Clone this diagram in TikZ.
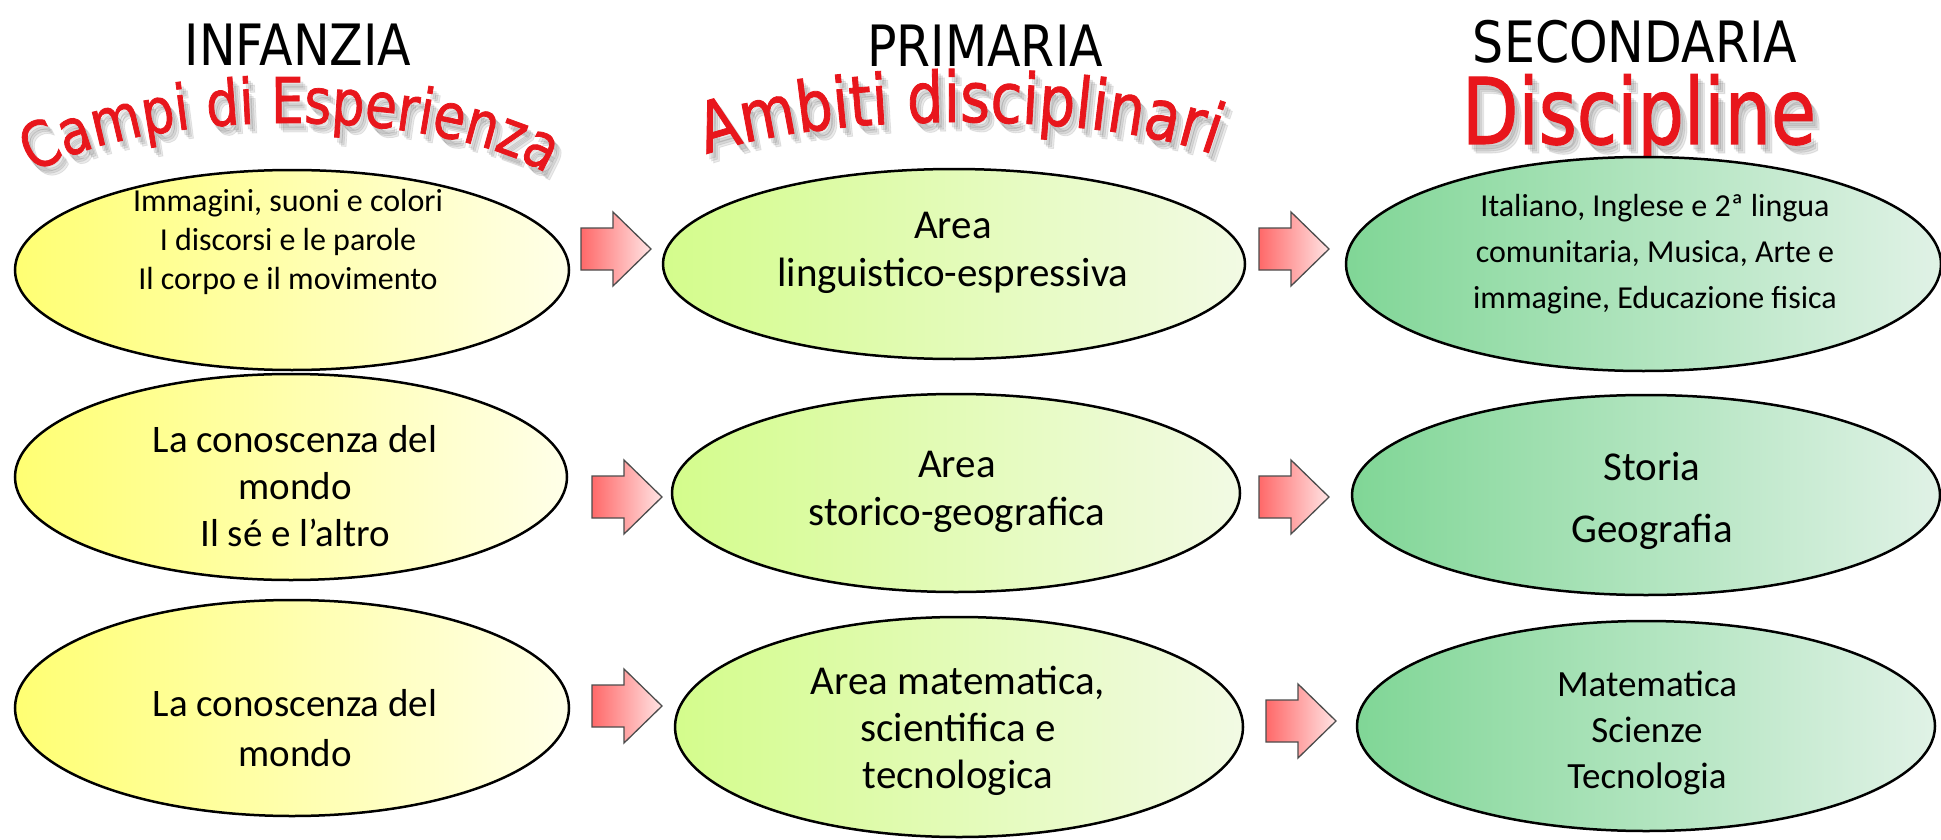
\documentclass[tikz,border=0pt]{standalone}
\usepackage{fontspec}
\setmainfont{Carlito}
\newfontfamily\headfont[FakeStretch=0.86]{DejaVu Sans}
\newfontfamily\wordfont[FakeStretch=0.82,FakeBold=1.2]{DejaVu Sans}
\usetikzlibrary{shapes.geometric,decorations.text}
\definecolor{yelL}{RGB}{255,255,115}
\definecolor{yelR}{RGB}{255,255,232}
\definecolor{lgL}{RGB}{212,252,140}
\definecolor{lgR}{RGB}{242,250,228}
\definecolor{grL}{RGB}{128,214,150}
\definecolor{grR}{RGB}{224,242,230}
\definecolor{arL}{RGB}{255,105,105}
\definecolor{arR}{RGB}{255,228,228}
\definecolor{wordred}{RGB}{232,22,28}
\definecolor{shadowgray}{RGB}{80,80,80}
\tikzset{
  ell/.style={ellipse, draw=black, line width=2.5pt, inner sep=0pt},
  yel/.style={ell, left color=yelL, right color=yelR},
  lgreen/.style={ell, left color=lgL, right color=lgR},
  dgreen/.style={ell, left color=grL, right color=grR},
  txt/.style={align=center, text=black, inner sep=0pt},
  barrow/.style={draw=black!70, line width=1.3pt, left color=arL, right color=arR, line join=miter},
  head/.style={font=\headfont\fontsize{57}{60}\selectfont, anchor=base, inner sep=0pt},
  wordart/.style={font=\wordfont\fontsize{92}{92}\selectfont, anchor=base, inner sep=0pt},
}
\newcommand\blockarrow[2]{\path[barrow] (#1,#2) ++(0,21) -- ++(32,0) -- ++(0,16) -- ++(38,-37) -- ++(-38,-37) -- ++(0,16) -- ++(-32,0) -- cycle;}
\newcommand\campitext[1]{\path[decorate, decoration={text along path, text align=center, text color=#1,
  text={|\wordfont\fontsize{63}{63}\selectfont|Campi di Esperienza}}]
  (290,-218) ++(170:290 and 95) arc[start angle=170, end angle=10, x radius=290, y radius=95];}
\newcommand\ambititext[1]{\path[decorate, decoration={text along path, text align=center, text color=#1,
  text={|\wordfont\fontsize{70}{70}\selectfont|Ambiti disciplinari}}]
  (960,-192) ++(170:300 and 70) arc[start angle=170, end angle=10, x radius=300, y radius=70];}
\begin{document}
\begin{tikzpicture}[x=1pt,y=1pt]
\useasboundingbox (0,0) rectangle (1941,-840);

% headers
\node[head] (h1) at (298,-66) {INFANZIA};
\node[head] (h2) at (985,-67) {PRIMARIA};
\node[head] (h3) at (1635,-63) {SECONDARIA};

% word-art soft shadows
\foreach \dx/\dy in {3/-5,5/-7,7/-9}{
\begin{scope}[opacity=0.12, shift={(\dx,\dy)}]
\campitext{shadowgray}
\ambititext{shadowgray}
\node[wordart, text=shadowgray] at (1639,-144) {\scalebox{0.97}[1]{Discipline}};
\end{scope}}

% word-art
\campitext{wordred}
\ambititext{wordred}
\node[wordart, text=wordred] (d1) at (1639,-144) {\scalebox{0.97}[1]{Discipline}};

% ellipses
\node[yel, minimum width=554, minimum height=200] (e11) at (292,-270) {};
\node[yel, minimum width=552, minimum height=206] (e21) at (291,-477) {};
\node[yel, minimum width=554, minimum height=216] (e31) at (292,-708) {};

\node[lgreen, minimum width=582, minimum height=190] (e12) at (954,-264) {};
\node[lgreen, minimum width=568, minimum height=198] (e22) at (956,-493) {};
\node[lgreen, minimum width=568, minimum height=220] (e32) at (959,-727) {};

\node[dgreen, minimum width=595, minimum height=214] (e13) at (1643.5,-264) {};
\node[dgreen, minimum width=588, minimum height=200] (e23) at (1646,-495) {};
\node[dgreen, minimum width=578, minimum height=210] (e33) at (1646,-726) {};

% arrows
\blockarrow{581}{-249}
\blockarrow{1259}{-249}
\blockarrow{592}{-497}
\blockarrow{1259}{-497}
\blockarrow{592}{-706}
\blockarrow{1266}{-721}

% texts
\node[txt, font=\fontsize{32}{39}\selectfont] (t11) at (288,-242) {Immagini, suoni e colori\\I discorsi e le parole\\Il corpo e il movimento};
\node[txt, font=\fontsize{41}{48}\selectfont] (t12) at (953,-253) {Area\\linguistico-espressiva};
\node[txt, font=\fontsize{32}{46}\selectfont] (t13) at (1655,-254) {Italiano, Inglese e 2ª lingua\\comunitaria, Musica, Arte e\\immagine, Educazione fisica};

\node[txt, font=\fontsize{39}{47}\selectfont] (t21) at (295,-486) {La conoscenza del\\mondo\\Il sé e l’altro};
\node[txt, font=\fontsize{41}{48}\selectfont] (t22) at (957,-492) {Area\\storico-geografica};
\node[txt, font=\fontsize{41}{62}\selectfont] (t23) at (1652,-501) {Storia\\Geografia};

\node[txt, font=\fontsize{39}{50}\selectfont] (t31) at (295,-728) {La conoscenza del\\mondo};
\node[txt, font=\fontsize{41}{47}\selectfont] (t32) at (958,-731) {Area matematica,\\scientifica e\\tecnologica};
\node[txt, font=\fontsize{37}{46}\selectfont] (t33) at (1647,-733) {Matematica\\Scienze\\Tecnologia};
\end{tikzpicture}
\end{document}
